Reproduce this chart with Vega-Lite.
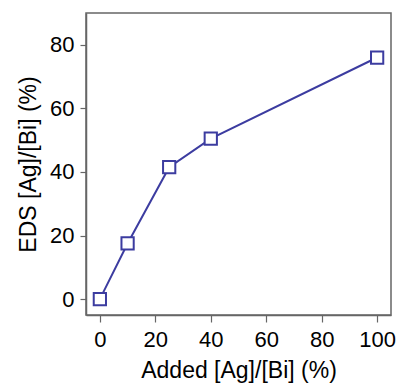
{
  "$schema": "https://vega.github.io/schema/vega-lite/v6.json",
  "width": 305,
  "height": 302,
  "autosize": "none",
  "padding": {"left": 86, "top": 13, "right": 7, "bottom": 70},
  "background": "white",
  "config": {
    "view": {"stroke": "#666666", "strokeWidth": 1.5},
    "axis": {
      "grid": false,
      "domainColor": "#666666",
      "domainWidth": 1.5,
      "tickColor": "#666666",
      "tickWidth": 1.2,
      "labelFont": "Liberation Sans",
      "labelFontSize": 22,
      "labelColor": "#000000",
      "titleFont": "Liberation Sans",
      "titleFontSize": 23,
      "titleFontWeight": "normal",
      "titleColor": "#000000"
    }
  },
  "data": {
    "values": [
      {"added": 0, "eds": 0},
      {"added": 10, "eds": 17.5},
      {"added": 25, "eds": 41.5},
      {"added": 40, "eds": 50.5},
      {"added": 100, "eds": 76}
    ]
  },
  "layer": [
    {
      "mark": {"type": "line", "color": "#3c3ca0", "strokeWidth": 2},
      "encoding": {
        "x": {"field": "added", "type": "quantitative"},
        "y": {"field": "eds", "type": "quantitative"}
      }
    },
    {
      "mark": {"type": "point", "shape": "square", "filled": true, "fill": "white", "stroke": "#3c3ca0", "strokeWidth": 2, "size": 150, "opacity": 1},
      "encoding": {
        "x": {
          "field": "added", "type": "quantitative",
          "scale": {"domain": [-5, 105], "nice": false, "zero": false},
          "axis": {
            "title": "Added [Ag]/[Bi] (%)",
            "values": [0, 10, 20, 30, 40, 50, 60, 70, 80, 90, 100],
            "labelExpr": "datum.value % 20 === 0 ? datum.label : ''",
            "tickSize": {"condition": {"test": "datum.value % 20 === 0", "value": 7}, "value": 4},
            "labelPadding": 7,
            "titlePadding": 9
          }
        },
        "y": {
          "field": "eds", "type": "quantitative",
          "scale": {"domain": [-5, 90], "nice": false, "zero": false},
          "axis": {
            "title": "EDS [Ag]/[Bi] (%)",
            "values": [0, 10, 20, 30, 40, 50, 60, 70, 80],
            "labelExpr": "datum.value % 20 === 0 ? datum.label : ''",
            "tickSize": {"condition": {"test": "datum.value % 20 === 0", "value": 6}, "value": 3},
            "labelPadding": 6,
            "titlePadding": 9
          }
        }
      }
    }
  ]
}
